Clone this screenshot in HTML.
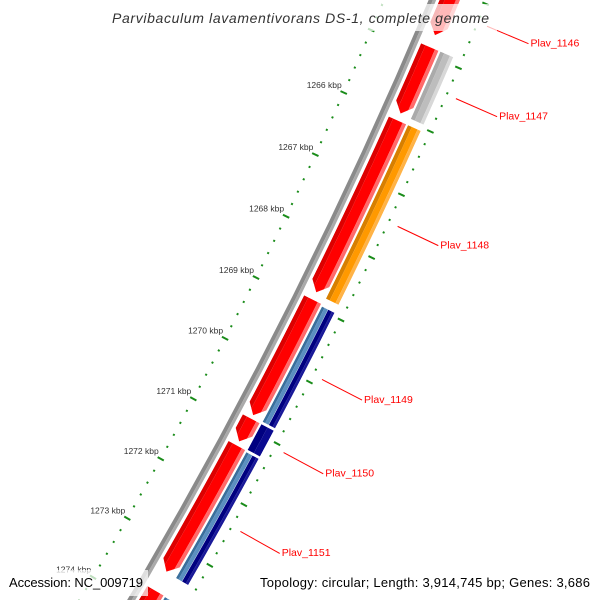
<!DOCTYPE html>
<html><head><meta charset="utf-8"><style>
html,body{margin:0;padding:0;background:#fff;overflow:hidden;width:600px;height:600px;}
svg{display:block;font-family:"Liberation Sans",sans-serif;overflow:hidden;}
</style></head><body>
<svg id="map" width="600" height="600" viewBox="0 0 600 600" xmlns="http://www.w3.org/2000/svg">
<defs id="defs"></defs>
<g id="ticks"></g>
<g id="backbone"></g>
<g id="features"></g>
<g id="labels"></g>
<rect x="105" y="4" width="392" height="27" fill="#fff" opacity="0.72"/>
<text x="112" y="23" textLength="377" lengthAdjust="spacing" font-size="14" font-style="italic" fill="#333">Parvibaculum lavamentivorans DS-1, complete genome</text>
<rect x="4" y="570" width="144" height="26" fill="#fff" opacity="0.72"/>
<text x="9" y="587" textLength="134" lengthAdjust="spacing" font-size="13" fill="#000">Accession: NC_009719</text>
<rect x="256" y="570" width="340" height="26" fill="#fff" opacity="0.72"/>
<text x="260" y="587" textLength="330" lengthAdjust="spacing" font-size="13" fill="#000">Topology: circular; Length: 3,914,745 bp; Genes: 3,686</text>
</svg>
<script>
// ---- data ----
const featureNames  = ["Plav_1146","r2","r3","r4","r5","r6","r7","Plav_1147","Plav_1148","Plav_1149","Plav_1150","Plav_1151","b7"];
const featureStarts = [1263.88,1264.89,1266.05,1268.92,1270.86,1271.30,1273.71,1264.89,1266.05,1268.95,1270.86,1271.32,1273.72];
const featureEnds   = [1264.70,1265.94,1268.80,1270.80,1271.23,1273.39,1275.50,1265.95,1268.82,1270.82,1271.28,1273.40,1275.50];
const featureKinds  = ["red","red","red","red","red","red","red","gray","orange","blue","navy","blue","blue"];
const labelled      = ["Plav_1146","Plav_1147","Plav_1148","Plav_1149","Plav_1150","Plav_1151"];
const tickStart = 1262, tickEnd = 1276;
const labelTicks = [1266,1267,1268,1269,1270,1271,1272,1273,1274];

// ---- geometry ----
const CX=-4172, CY=-1935, A0=27.34, DEG_PER_KBP=0.79;
function P(k,r){const a=(A0+DEG_PER_KBP*(k-1270))*Math.PI/180;return [CX+r*Math.cos(a),CY+r*Math.sin(a)];}
const NS="http://www.w3.org/2000/svg";
function el(t,attrs,parent){const e=document.createElementNS(NS,t);for(const k in attrs)e.setAttribute(k,attrs[k]);parent.appendChild(e);return e;}
function arcPts(k1,k2,r){const n=12,pts=[];for(let i=0;i<=n;i++){pts.push(P(k1+(k2-k1)*i/n,r));}return pts;}
function band(k1,k2,r1,r2){const a=arcPts(k1,k2,r2),b=arcPts(k1,k2,r1).reverse();return a.concat(b).map(p=>p[0].toFixed(2)+","+p[1].toFixed(2)).join(" ");}
function arrow(k1,k2,r1,r2,head){const kh=k2-head;const a=arcPts(k1,kh,r2),b=arcPts(k1,kh,r1).reverse();const tip=P(k2,(r1+r2)/2);return a.concat([tip],b).map(p=>p[0].toFixed(2)+","+p[1].toFixed(2)).join(" ");}

// ---- ticks ----
const tg=document.getElementById('ticks');
for(let i=Math.round(tickStart*5);i<=Math.round(tickEnd*5);i++){
  const k=i/5, major=(i%5===0);
  [4950,5045].forEach(r=>{
    const h=major?3.5:1;
    const p1=P(k,r-h),p2=P(k,r+h);
    const ln=el('line',{x1:p1[0],y1:p1[1],x2:p2[0],y2:p2[1],stroke:'#1a8c1a','stroke-width':2},tg);
    
    
  });
}
labelTicks.forEach(k=>{
  const p=P(k,4950);
  const t=el('text',{x:p[0]-2,y:p[1]-7,'text-anchor':'end','dominant-baseline':'middle','font-size':'8.5',fill:'#333'},tg);
  t.textContent=k+" kbp";
  
  
});

// ---- backbone ----
const bb=document.getElementById('backbone');
const b1=el('polygon',{points:band(1262,1276,4991,4995),fill:'#8a8a8a'},bb);


const b2=el('polygon',{points:band(1262,1276,4995,4998),fill:'#aaaaaa'},bb);



// ---- features ----
const fg=document.getElementById('features'), defs=document.getElementById('defs');
const styles={
  red:   {r1:5001,r2:5020,arrow:true, bands:[[0,0.25,'#dd0000'],[0.25,0.8,'#ff0000'],[0.8,1,'#ff6a6a']]},
  gray:  {r1:5022,r2:5036,arrow:false,bands:[[0,0.3,'#aaaaaa'],[0.3,0.75,'#bdbdbd'],[0.75,1,'#d8d8d8']]},
  orange:{r1:5022,r2:5036,arrow:false,bands:[[0,0.3,'#d77f00'],[0.3,0.75,'#ff9900'],[0.75,1,'#ffb347']]},
  navy:  {r1:5022,r2:5036,arrow:false,bands:[[0,0.5,'#000080'],[0.5,1,'#0a0a90']]},
  blue:  {r1:5022,r2:5036,arrow:false,bands:[[0,0.2,'#3a6f9c'],[0.2,0.48,'#5a8fc0'],[0.48,0.5,'#ffffff'],[0.5,0.8,'#000080'],[0.8,1,'#1a1a99']]}
};
featureNames.forEach((nm,i)=>{
  const s=styles[featureKinds[i]], k1=featureStarts[i], k2=featureEnds[i];
  const g=el('g',{},fg);
  
  
  const shape=s.arrow?arrow(k1,k2,s.r1,s.r2,0.15):band(k1,k2,s.r1,s.r2);
  const cp=el('clipPath',{id:'cp'+i},defs);
  el('polygon',{points:shape},cp);
  const inner=el('g',{'clip-path':'url(#cp'+i+')'},g);
  s.bands.forEach(bd=>{
    const ra=s.r1+(s.r2-s.r1)*bd[0], rb=s.r1+(s.r2-s.r1)*bd[1];
    const p=el('polygon',{points:band(k1-0.01,k2+0.01,ra,rb),fill:bd[2]},inner);
    
    
  });
  if(labelled.indexOf(nm)>=0){
    const lg=document.getElementById('labels');
    const mid=(k1+k2)/2, a=P(mid,5055), b=P(mid,5100);
    const ln=el('line',{x1:a[0],y1:a[1],x2:b[0],y2:b[1],stroke:'#ff0000','stroke-width':1},lg);
    
    
    const t=el('text',{x:b[0]+2,y:b[1],'dominant-baseline':'middle','font-size':'10.5',fill:'#ff0000'},lg);
    t.textContent=nm;
    
    
  }
});
</script>
</body></html>
